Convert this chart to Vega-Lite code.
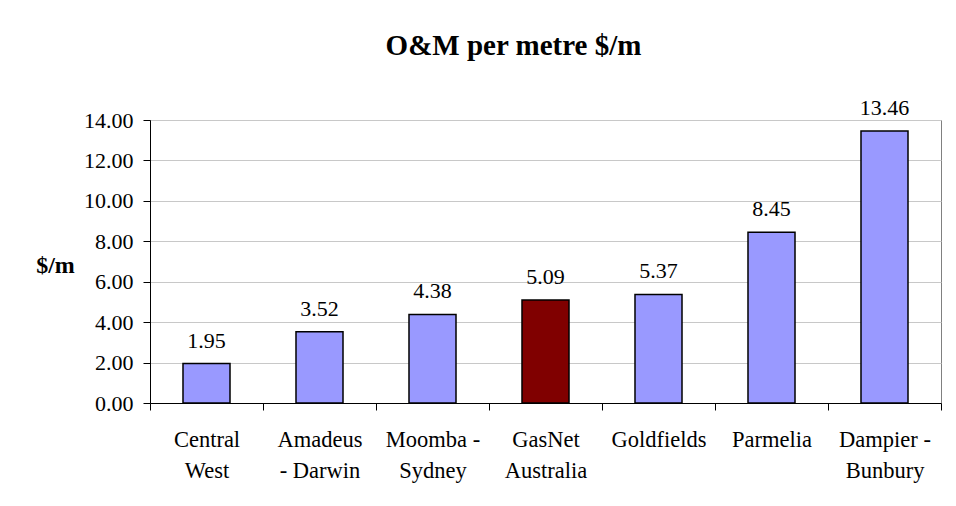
{
  "$schema": "https://vega.github.io/schema/vega-lite/v6.json",
  "width": 791,
  "height": 283,
  "autosize": {"type": "none"},
  "padding": {"left": 150, "top": 120, "right": 15, "bottom": 103},
  "background": "white",
  "title": {
    "text": "O&M per metre $/m",
    "font": "Liberation Serif",
    "fontSize": 29,
    "fontWeight": "bold",
    "color": "black",
    "anchor": "middle",
    "dx": -32,
    "offset": 36
  },
  "config": {
    "view": {"stroke": "#808080", "strokeWidth": 1},
    "font": "Liberation Serif"
  },
  "data": {
    "values": [
      {"pipeline": "Central\nWest", "value": 1.95},
      {"pipeline": "Amadeus\n- Darwin", "value": 3.52},
      {"pipeline": "Moomba -\nSydney", "value": 4.38},
      {"pipeline": "GasNet\nAustralia", "value": 5.09},
      {"pipeline": "Goldfields", "value": 5.37},
      {"pipeline": "Parmelia", "value": 8.45},
      {"pipeline": "Dampier -\nBunbury", "value": 13.46}
    ]
  },
  "encoding": {
    "x": {
      "field": "pipeline",
      "type": "nominal",
      "sort": null,
      "scale": {"paddingInner": 0, "paddingOuter": 0},
      "axis": {
        "title": null,
        "labelAngle": 0,
        "tickBand": "extent",
        "tickSize": 7,
        "tickColor": "black",
        "domainColor": "black",
        "labelColor": "black",
        "labelFont": "Liberation Serif",
        "labelFontSize": 22.5,
        "labelLineHeight": 31,
        "labelPadding": 18,
        "labelExpr": "split(datum.label, '\\n')",
        "grid": false
      }
    },
    "y": {
      "field": "value",
      "type": "quantitative",
      "scale": {"domain": [0, 14]},
      "axis": {
        "values": [0, 2, 4, 6, 8, 10, 12, 14],
        "format": ".2f",
        "title": "$/m",
        "titleAngle": 0,
        "titleFont": "Liberation Serif",
        "titleFontSize": 24,
        "titleFontWeight": "bold",
        "titleColor": "black",
        "titleAlign": "center",
        "titleBaseline": "middle",
        "titleX": -95,
        "titleY": 145,
        "tickSize": 7,
        "tickColor": "black",
        "domainColor": "black",
        "labelColor": "black",
        "labelFont": "Liberation Serif",
        "labelFontSize": 22,
        "labelPadding": 10,
        "grid": true,
        "gridColor": "#c8c8c8"
      }
    }
  },
  "layer": [
    {
      "mark": {"type": "bar", "width": {"band": 0.416}, "stroke": "black", "strokeWidth": 1.5},
      "encoding": {
        "color": {
          "condition": {"test": "datum.pipeline === 'GasNet\\nAustralia'", "value": "#800000"},
          "value": "#9999FF"
        }
      }
    },
    {
      "mark": {"type": "text", "baseline": "alphabetic", "dy": -16, "fontSize": 22, "font": "Liberation Serif", "color": "black"},
      "encoding": {
        "text": {"field": "value", "type": "quantitative", "format": ".2f"}
      }
    }
  ]
}
